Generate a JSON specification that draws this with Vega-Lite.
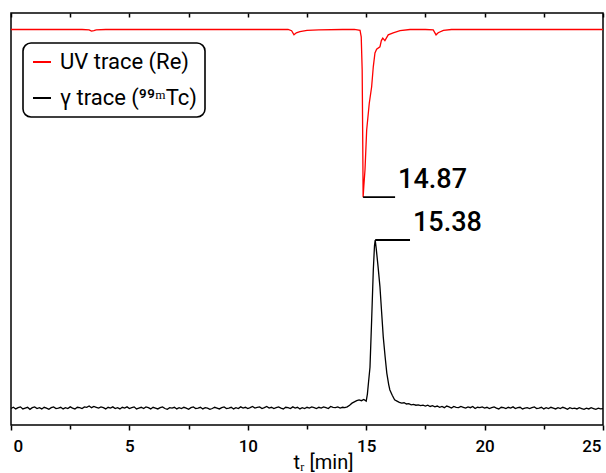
{
 "$schema": "https://vega.github.io/schema/vega-lite/v6.json",
 "width": 592, "height": 412,
 "autosize": {"type": "none"},
 "padding": {"left": 11, "top": 13, "right": 3, "bottom": 48},
 "background": "white",
 "config": {"view": {"stroke": "black", "strokeWidth": 1.5}, "font": "Roboto"},
 "datasets": {
  "ann": [
   {"t": 14.87, "t2": 16.22, "v": 55.3, "label": "14.87"},
   {"t": 15.38, "t2": 16.85, "v": 44.9, "label": "15.38"}
  ],
  "traces": [
   {"s":"u","t":0,"v":96.0},{"s":"u","t":1,"v":96.0},{"s":"u","t":2,"v":96.0},{"s":"u","t":3.0,"v":96.0},{"s":"u","t":3.3,"v":95.9},{"s":"u","t":3.4,"v":95.6},{"s":"u","t":3.5,"v":95.7},{"s":"u","t":3.6,"v":95.9},{"s":"u","t":4,"v":96.0},{"s":"u","t":6,"v":96.0},{"s":"u","t":8,"v":96.0},{"s":"u","t":10,"v":96.0},{"s":"u","t":11.7,"v":96.0},{"s":"u","t":11.85,"v":95.7},{"s":"u","t":11.95,"v":94.7},{"s":"u","t":12.05,"v":95.2},{"s":"u","t":12.2,"v":95.5},{"s":"u","t":12.5,"v":95.8},{"s":"u","t":13,"v":95.9},{"s":"u","t":14,"v":96.0},{"s":"u","t":14.5,"v":96.0},{"s":"u","t":14.74,"v":95.8},{"s":"u","t":14.79,"v":94.2},{"s":"u","t":14.83,"v":86.2},{"s":"u","t":14.855,"v":68},{"s":"u","t":14.87,"v":55.3},{"s":"u","t":14.9,"v":58},{"s":"u","t":14.95,"v":62},{"s":"u","t":15.02,"v":71.6},{"s":"u","t":15.13,"v":78.1},{"s":"u","t":15.23,"v":82.1},{"s":"u","t":15.30,"v":87.0},{"s":"u","t":15.37,"v":90.3},{"s":"u","t":15.44,"v":91.2},{"s":"u","t":15.58,"v":91.8},{"s":"u","t":15.64,"v":93.3},{"s":"u","t":15.70,"v":93.9},{"s":"u","t":15.79,"v":93.3},{"s":"u","t":15.93,"v":94.7},{"s":"u","t":16.14,"v":95.2},{"s":"u","t":16.43,"v":95.7},{"s":"u","t":16.85,"v":96.0},{"s":"u","t":17.5,"v":96.0},{"s":"u","t":17.83,"v":95.9},{"s":"u","t":17.95,"v":94.7},{"s":"u","t":18.04,"v":95.2},{"s":"u","t":18.26,"v":95.8},{"s":"u","t":18.6,"v":96.0},{"s":"u","t":20,"v":96.0},{"s":"u","t":22,"v":96.0},{"s":"u","t":25,"v":96.0},
   {"s":"g","t":0.0,"v":4.0},{"s":"g","t":0.1,"v":4.3},{"s":"g","t":0.2,"v":3.9},{"s":"g","t":0.3,"v":4.2},{"s":"g","t":0.4,"v":4.4},{"s":"g","t":0.5,"v":3.9},{"s":"g","t":0.6,"v":4.1},{"s":"g","t":0.7,"v":4.3},{"s":"g","t":0.8,"v":3.8},{"s":"g","t":0.9,"v":4.2},
   {"s":"g","t":1.0,"v":4.4},{"s":"g","t":1.1,"v":4.0},{"s":"g","t":1.2,"v":4.2},{"s":"g","t":1.3,"v":3.9},{"s":"g","t":1.4,"v":4.3},{"s":"g","t":1.5,"v":4.1},{"s":"g","t":1.6,"v":3.8},{"s":"g","t":1.7,"v":4.2},{"s":"g","t":1.8,"v":4.4},{"s":"g","t":1.9,"v":4.0},
   {"s":"g","t":2.0,"v":4.1},{"s":"g","t":2.1,"v":4.3},{"s":"g","t":2.2,"v":3.9},{"s":"g","t":2.3,"v":4.2},{"s":"g","t":2.4,"v":4.0},{"s":"g","t":2.5,"v":4.4},{"s":"g","t":2.6,"v":4.1},{"s":"g","t":2.7,"v":3.9},{"s":"g","t":2.8,"v":4.3},{"s":"g","t":2.9,"v":4.2},
   {"s":"g","t":3.0,"v":4.0},{"s":"g","t":3.1,"v":4.4},{"s":"g","t":3.2,"v":4.3},{"s":"g","t":3.3,"v":4.6},{"s":"g","t":3.4,"v":4.2},{"s":"g","t":3.5,"v":4.5},{"s":"g","t":3.6,"v":4.3},{"s":"g","t":3.7,"v":4.1},{"s":"g","t":3.8,"v":4.4},{"s":"g","t":3.9,"v":4.2},
   {"s":"g","t":4.0,"v":3.9},{"s":"g","t":4.1,"v":4.3},{"s":"g","t":4.2,"v":4.1},{"s":"g","t":4.3,"v":4.4},{"s":"g","t":4.4,"v":4.0},{"s":"g","t":4.5,"v":4.2},{"s":"g","t":4.6,"v":3.9},{"s":"g","t":4.7,"v":4.3},{"s":"g","t":4.8,"v":4.1},{"s":"g","t":4.9,"v":4.4},
   {"s":"g","t":5.0,"v":4.0},{"s":"g","t":5.1,"v":4.2},{"s":"g","t":5.2,"v":4.4},{"s":"g","t":5.3,"v":3.9},{"s":"g","t":5.4,"v":4.1},{"s":"g","t":5.5,"v":4.3},{"s":"g","t":5.6,"v":4.0},{"s":"g","t":5.7,"v":4.4},{"s":"g","t":5.8,"v":4.2},{"s":"g","t":5.9,"v":3.9},
   {"s":"g","t":6.0,"v":4.3},{"s":"g","t":6.1,"v":4.1},{"s":"g","t":6.2,"v":3.9},{"s":"g","t":6.3,"v":4.2},{"s":"g","t":6.4,"v":4.4},{"s":"g","t":6.5,"v":4.0},{"s":"g","t":6.6,"v":3.8},{"s":"g","t":6.7,"v":4.2},{"s":"g","t":6.8,"v":4.1},{"s":"g","t":6.9,"v":4.3},
   {"s":"g","t":7.0,"v":3.9},{"s":"g","t":7.1,"v":4.2},{"s":"g","t":7.2,"v":4.0},{"s":"g","t":7.3,"v":4.3},{"s":"g","t":7.4,"v":4.1},{"s":"g","t":7.5,"v":3.8},{"s":"g","t":7.6,"v":4.2},{"s":"g","t":7.7,"v":4.4},{"s":"g","t":7.8,"v":4.0},{"s":"g","t":7.9,"v":4.1},
   {"s":"g","t":8.0,"v":4.3},{"s":"g","t":8.1,"v":3.9},{"s":"g","t":8.2,"v":4.2},{"s":"g","t":8.3,"v":4.1},{"s":"g","t":8.4,"v":3.8},{"s":"g","t":8.5,"v":4.0},{"s":"g","t":8.6,"v":4.3},{"s":"g","t":8.7,"v":4.1},{"s":"g","t":8.8,"v":3.9},{"s":"g","t":8.9,"v":4.2},
   {"s":"g","t":9.0,"v":4.4},{"s":"g","t":9.1,"v":4.0},{"s":"g","t":9.2,"v":4.1},{"s":"g","t":9.3,"v":4.3},{"s":"g","t":9.4,"v":3.9},{"s":"g","t":9.5,"v":4.2},{"s":"g","t":9.6,"v":4.0},{"s":"g","t":9.7,"v":4.4},{"s":"g","t":9.8,"v":4.1},{"s":"g","t":9.9,"v":4.3},
   {"s":"g","t":10.0,"v":4.0},{"s":"g","t":10.1,"v":4.2},{"s":"g","t":10.2,"v":4.5},{"s":"g","t":10.3,"v":4.1},{"s":"g","t":10.4,"v":4.3},{"s":"g","t":10.5,"v":4.4},{"s":"g","t":10.6,"v":4.0},{"s":"g","t":10.7,"v":4.2},{"s":"g","t":10.8,"v":4.5},{"s":"g","t":10.9,"v":4.1},
   {"s":"g","t":11.0,"v":4.3},{"s":"g","t":11.1,"v":4.0},{"s":"g","t":11.2,"v":4.2},{"s":"g","t":11.3,"v":4.4},{"s":"g","t":11.4,"v":4.1},{"s":"g","t":11.5,"v":3.9},{"s":"g","t":11.6,"v":4.3},{"s":"g","t":11.7,"v":4.2},{"s":"g","t":11.8,"v":4.0},{"s":"g","t":11.9,"v":4.4},
   {"s":"g","t":12.0,"v":4.1},{"s":"g","t":12.1,"v":4.3},{"s":"g","t":12.2,"v":3.9},{"s":"g","t":12.3,"v":4.2},{"s":"g","t":12.4,"v":4.0},{"s":"g","t":12.5,"v":4.3},{"s":"g","t":12.6,"v":4.1},{"s":"g","t":12.7,"v":4.4},{"s":"g","t":12.8,"v":4.2},{"s":"g","t":12.9,"v":4.0},
   {"s":"g","t":13.0,"v":4.3},{"s":"g","t":13.1,"v":4.1},{"s":"g","t":13.2,"v":4.4},{"s":"g","t":13.3,"v":4.2},{"s":"g","t":13.4,"v":4.0},{"s":"g","t":13.5,"v":4.5},{"s":"g","t":13.6,"v":4.3},{"s":"g","t":13.7,"v":4.2},{"s":"g","t":13.8,"v":4.4},{"s":"g","t":13.9,"v":4.1},
   {"s":"g","t":14.0,"v":4.3},{"s":"g","t":14.1,"v":4.2},{"s":"g","t":14.2,"v":4.4},{"s":"g","t":14.3,"v":4.8},{"s":"g","t":14.4,"v":5.3},{"s":"g","t":14.5,"v":5.6},{"s":"g","t":14.6,"v":5.9},{"s":"g","t":14.7,"v":6.1},{"s":"g","t":14.8,"v":5.9},{"s":"g","t":14.9,"v":6.2},
   {"s":"g","t":15.0,"v":5.8},{"s":"g","t":15.05,"v":7.5},{"s":"g","t":15.1,"v":10.5},{"s":"g","t":15.16,"v":14},{"s":"g","t":15.23,"v":25.5},{"s":"g","t":15.3,"v":37.6},{"s":"g","t":15.35,"v":43.5},{"s":"g","t":15.38,"v":44.9},{"s":"g","t":15.42,"v":43},{"s":"g","t":15.5,"v":38.5},
   {"s":"g","t":15.58,"v":33.6},{"s":"g","t":15.65,"v":27.5},{"s":"g","t":15.72,"v":21.4},{"s":"g","t":15.8,"v":16.5},{"s":"g","t":15.87,"v":12.6},{"s":"g","t":15.95,"v":9.8},{"s":"g","t":16.0,"v":8.5},{"s":"g","t":16.1,"v":7.2},{"s":"g","t":16.2,"v":6.1},{"s":"g","t":16.3,"v":5.8},
   {"s":"g","t":16.4,"v":5.5},{"s":"g","t":16.5,"v":5.3},{"s":"g","t":16.6,"v":5.4},{"s":"g","t":16.7,"v":5.1},{"s":"g","t":16.8,"v":5.2},{"s":"g","t":16.9,"v":4.9},{"s":"g","t":17.0,"v":5.0},{"s":"g","t":17.1,"v":4.8},{"s":"g","t":17.2,"v":4.9},{"s":"g","t":17.3,"v":4.7},
   {"s":"g","t":17.4,"v":4.8},{"s":"g","t":17.5,"v":4.6},{"s":"g","t":17.6,"v":4.8},{"s":"g","t":17.7,"v":4.5},{"s":"g","t":17.8,"v":4.7},{"s":"g","t":17.9,"v":4.4},{"s":"g","t":18.0,"v":4.6},
   {"s":"g","t":18.1,"v":4.3},{"s":"g","t":18.2,"v":4.5},{"s":"g","t":18.3,"v":4.2},{"s":"g","t":18.4,"v":4.6},{"s":"g","t":18.5,"v":4.4},{"s":"g","t":18.6,"v":4.1},{"s":"g","t":18.7,"v":4.5},{"s":"g","t":18.8,"v":4.3},{"s":"g","t":18.9,"v":4.2},
   {"s":"g","t":19.0,"v":4.5},{"s":"g","t":19.1,"v":4.3},{"s":"g","t":19.2,"v":4.1},{"s":"g","t":19.3,"v":4.4},{"s":"g","t":19.4,"v":4.2},{"s":"g","t":19.5,"v":4.5},{"s":"g","t":19.6,"v":4.0},{"s":"g","t":19.7,"v":4.3},{"s":"g","t":19.8,"v":4.2},{"s":"g","t":19.9,"v":4.4},
   {"s":"g","t":20.0,"v":4.1},{"s":"g","t":20.1,"v":4.3},{"s":"g","t":20.2,"v":4.0},{"s":"g","t":20.3,"v":4.2},{"s":"g","t":20.4,"v":4.4},{"s":"g","t":20.5,"v":4.1},{"s":"g","t":20.6,"v":3.9},{"s":"g","t":20.7,"v":4.3},{"s":"g","t":20.8,"v":4.2},{"s":"g","t":20.9,"v":4.0},
   {"s":"g","t":21.0,"v":4.3},{"s":"g","t":21.1,"v":4.1},{"s":"g","t":21.2,"v":4.4},{"s":"g","t":21.3,"v":4.0},{"s":"g","t":21.4,"v":4.2},{"s":"g","t":21.5,"v":4.3},{"s":"g","t":21.6,"v":3.9},{"s":"g","t":21.7,"v":4.1},{"s":"g","t":21.8,"v":4.2},{"s":"g","t":21.9,"v":4.0},
   {"s":"g","t":22.0,"v":4.2},{"s":"g","t":22.1,"v":4.4},{"s":"g","t":22.2,"v":4.0},{"s":"g","t":22.3,"v":4.1},{"s":"g","t":22.4,"v":4.3},{"s":"g","t":22.5,"v":3.9},{"s":"g","t":22.6,"v":4.2},{"s":"g","t":22.7,"v":4.0},{"s":"g","t":22.8,"v":4.3},{"s":"g","t":22.9,"v":4.1},
   {"s":"g","t":23.0,"v":3.9},{"s":"g","t":23.1,"v":4.2},{"s":"g","t":23.2,"v":4.0},{"s":"g","t":23.3,"v":4.3},{"s":"g","t":23.4,"v":4.1},{"s":"g","t":23.5,"v":3.8},{"s":"g","t":23.6,"v":4.2},{"s":"g","t":23.7,"v":4.0},{"s":"g","t":23.8,"v":4.1},{"s":"g","t":23.9,"v":3.9},
   {"s":"g","t":24.0,"v":4.2},{"s":"g","t":24.1,"v":4.0},{"s":"g","t":24.2,"v":3.8},{"s":"g","t":24.3,"v":4.1},{"s":"g","t":24.4,"v":3.9},{"s":"g","t":24.5,"v":4.2},{"s":"g","t":24.6,"v":4.0},{"s":"g","t":24.7,"v":3.8},{"s":"g","t":24.8,"v":4.1},{"s":"g","t":24.9,"v":3.9},{"s":"g","t":25.0,"v":4.0}
  ]
 },
 "layer": [
  {
   "data": {"name": "traces"},
   "mark": {"type": "line", "strokeWidth": 1.3},
   "encoding": {
    "x": {"field": "t", "type": "quantitative",
     "scale": {"domain": [0, 25], "nice": false, "zero": false},
     "axis": {"orient": "bottom", "values": [0,2.5,5,7.5,10,12.5,15,17.5,20,22.5,25],
      "labelExpr": "datum.value % 5 === 0 ? datum.label : ''",
      "tickSize": {"condition": {"test": "datum.value % 5 === 0", "value": 5}, "value": 4},
      "tickColor": "black", "tickWidth": 1.5, "domain": false, "grid": false,
      "labelFont": "Roboto", "labelFontSize": 17, "labelFontWeight": 500, "labelColor": "black", "labelPadding": 8,
      "labelFlush": true, "labelFlushOffset": -2,
      "title": "tᵣ [min]", "titleFont": "Roboto", "titleFontSize": 20, "titleFontWeight": "normal",
      "titleColor": "black", "titlePadding": -2, "titleX": 312}},
    "y": {"field": "v", "type": "quantitative", "scale": {"domain": [0, 100], "nice": false}, "axis": null},
    "color": {"field": "s", "type": "nominal",
     "scale": {"domain": ["u", "g"], "range": ["#ff0000", "#000000"]},
     "legend": {"title": null, "orient": "none", "legendX": 12, "legendY": 30, "direction": "vertical",
      "labelExpr": "datum.value === 'u' ? 'UV trace (Re)' : 'γ trace (⁹⁹ᵐTc)'",
      "symbolType": "stroke", "symbolSize": 324, "symbolStrokeWidth": 2,
      "labelFont": "Roboto", "labelFontSize": 22, "labelFontWeight": "normal", "labelColor": "black", "labelLimit": 0, "labelOffset": 7,
      "padding": 8, "rowPadding": 14, "strokeColor": "black", "cornerRadius": 8, "fillColor": "white",
      "encode": {"legend": {"update": {"strokeWidth": {"value": 1.6}}}}}}
   }
  },
  {
   "data": {"name": "ann"},
   "mark": {"type": "rule", "strokeWidth": 1.8, "color": "black"},
   "encoding": {
    "x": {"field": "t", "type": "quantitative",
     "axis": {"orient": "top", "values": [0,2.5,5,7.5,10,12.5,15,17.5,20,22.5,25], "labels": false,
      "tickSize": -4, "tickColor": "black", "tickWidth": 1.5, "domain": false, "grid": false, "title": null}},
    "x2": {"field": "t2"},
    "y": {"field": "v", "type": "quantitative"}
   }
  },
  {
   "data": {"name": "ann"},
   "mark": {"type": "text", "align": "left", "baseline": "alphabetic", "dx": 3, "dy": -9,
    "font": "Roboto", "fontSize": 27, "fontWeight": 500, "color": "black"},
   "encoding": {
    "x": {"field": "t2", "type": "quantitative", "axis": null},
    "y": {"field": "v", "type": "quantitative"},
    "text": {"field": "label"}
   }
  }
 ],
 "resolve": {"axis": {"x": "independent"}}
}
